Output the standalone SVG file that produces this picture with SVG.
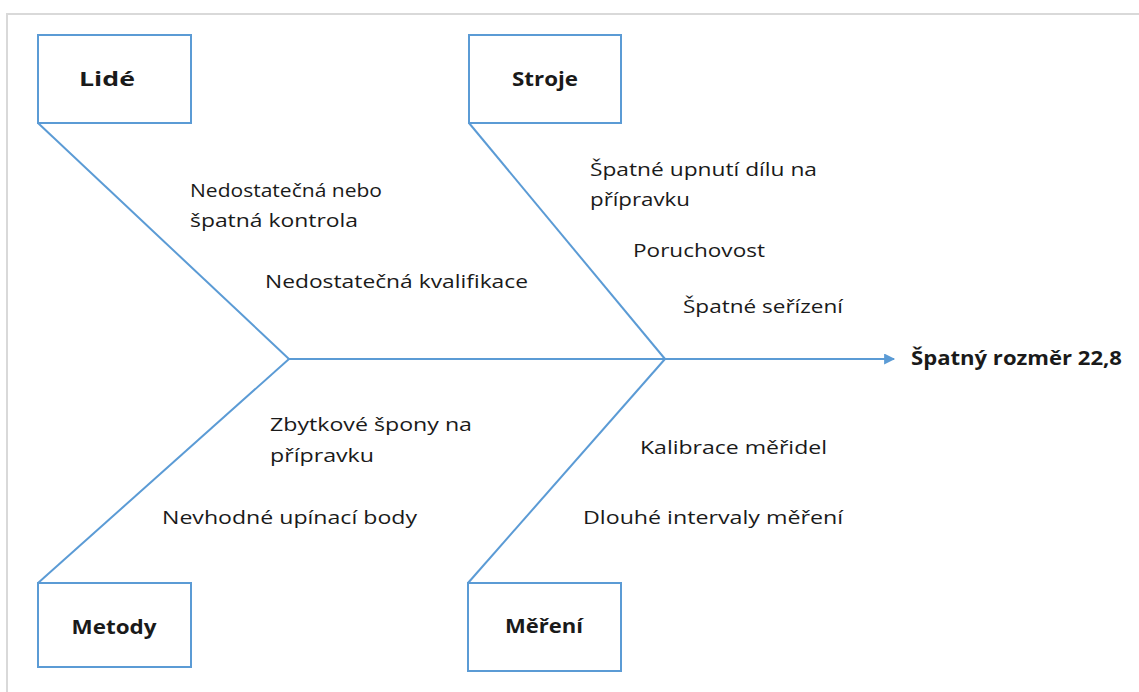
<svg xmlns="http://www.w3.org/2000/svg" width="1139" height="692" viewBox="0 0 1139 692">
  <style>
    .frame { stroke: #d9d9d9; stroke-width: 2; fill: none; }
    .box { fill: #ffffff; stroke: #5b9bd5; stroke-width: 2; }
    .bone { stroke: #5b9bd5; stroke-width: 2; fill: none; }
    .head { font-family: "Open Sans", "Noto Sans", "Liberation Sans", sans-serif; font-weight: bold; font-size: 19px; fill: #1a1a1a; text-anchor: middle; }
    .cause { font-family: "Open Sans", "Noto Sans", "Liberation Sans", sans-serif; font-size: 19px; fill: #1a1a1a; }
    .effect { font-family: "Open Sans", "Noto Sans", "Liberation Sans", sans-serif; font-weight: bold; font-size: 19px; fill: #1a1a1a; }
  </style>
  <defs>
    <marker id="arrow" viewBox="0 0 10 10" refX="9" refY="5" markerWidth="6" markerHeight="5.5" markerUnits="strokeWidth" orient="auto">
      <path d="M0,0 L10,5 L0,10 z" fill="#5b9bd5"/>
    </marker>
  </defs>

  <rect width="1139" height="692" fill="#ffffff"/>
  <!-- outer frame (top and left edges) -->
  <path class="frame" d="M7,692 L7,14 L1139,14"/>

  <!-- connectors: spine and bones -->
  <g id="connectors">
    <line class="bone" x1="289" y1="359" x2="894" y2="359" marker-end="url(#arrow)"/>
    <line class="bone" x1="38" y1="123" x2="289" y2="359"/>
    <line class="bone" x1="38" y1="583" x2="289" y2="359"/>
    <line class="bone" x1="469" y1="123" x2="665" y2="359"/>
    <line class="bone" x1="468" y1="583" x2="665" y2="359"/>
  </g>

  <g id="lide">
    <rect class="box" x="38" y="35" width="153" height="88"/>
    <text class="head" x="107" y="86" textLength="56" lengthAdjust="spacingAndGlyphs">Lidé</text>
  </g>
  <g id="stroje">
    <rect class="box" x="469" y="35" width="152" height="88"/>
    <text class="head" x="545" y="86" textLength="66" lengthAdjust="spacingAndGlyphs">Stroje</text>
  </g>
  <g id="metody">
    <rect class="box" x="38" y="583" width="153" height="84"/>
    <text class="head" x="114" y="634" textLength="85" lengthAdjust="spacingAndGlyphs">Metody</text>
  </g>
  <g id="mereni">
    <rect class="box" x="468" y="583" width="153" height="88"/>
    <text class="head" x="544" y="633" textLength="78" lengthAdjust="spacingAndGlyphs">Měření</text>
  </g>
  <g id="effect">
    <text class="effect" x="911" y="365" textLength="211" lengthAdjust="spacingAndGlyphs">Špatný rozměr 22,8</text>
  </g>

  <!-- causes -->
  <g id="causes-lide">
    <text class="cause" x="190" y="197" textLength="192" lengthAdjust="spacingAndGlyphs">Nedostatečná nebo</text>
    <text class="cause" x="190" y="227" textLength="168" lengthAdjust="spacingAndGlyphs">špatná kontrola</text>
    <text class="cause" x="265" y="288" textLength="263" lengthAdjust="spacingAndGlyphs">Nedostatečná kvalifikace</text>
  </g>
  <g id="causes-stroje">
    <text class="cause" x="590" y="176" textLength="227" lengthAdjust="spacingAndGlyphs">Špatné upnutí dílu na</text>
    <text class="cause" x="590" y="206" textLength="100" lengthAdjust="spacingAndGlyphs">přípravku</text>
    <text class="cause" x="633" y="257" textLength="132" lengthAdjust="spacingAndGlyphs">Poruchovost</text>
    <text class="cause" x="683" y="313" textLength="160" lengthAdjust="spacingAndGlyphs">Špatné seřízení</text>
  </g>
  <g id="causes-metody">
    <text class="cause" x="270" y="431" textLength="202" lengthAdjust="spacingAndGlyphs">Zbytkové špony na</text>
    <text class="cause" x="270" y="462" textLength="104" lengthAdjust="spacingAndGlyphs">přípravku</text>
    <text class="cause" x="162" y="524" textLength="255" lengthAdjust="spacingAndGlyphs">Nevhodné upínací body</text>
  </g>
  <g id="causes-mereni">
    <text class="cause" x="640" y="454" textLength="187" lengthAdjust="spacingAndGlyphs">Kalibrace měřidel</text>
    <text class="cause" x="583" y="524" textLength="260" lengthAdjust="spacingAndGlyphs">Dlouhé intervaly měření</text>
  </g>
</svg>
